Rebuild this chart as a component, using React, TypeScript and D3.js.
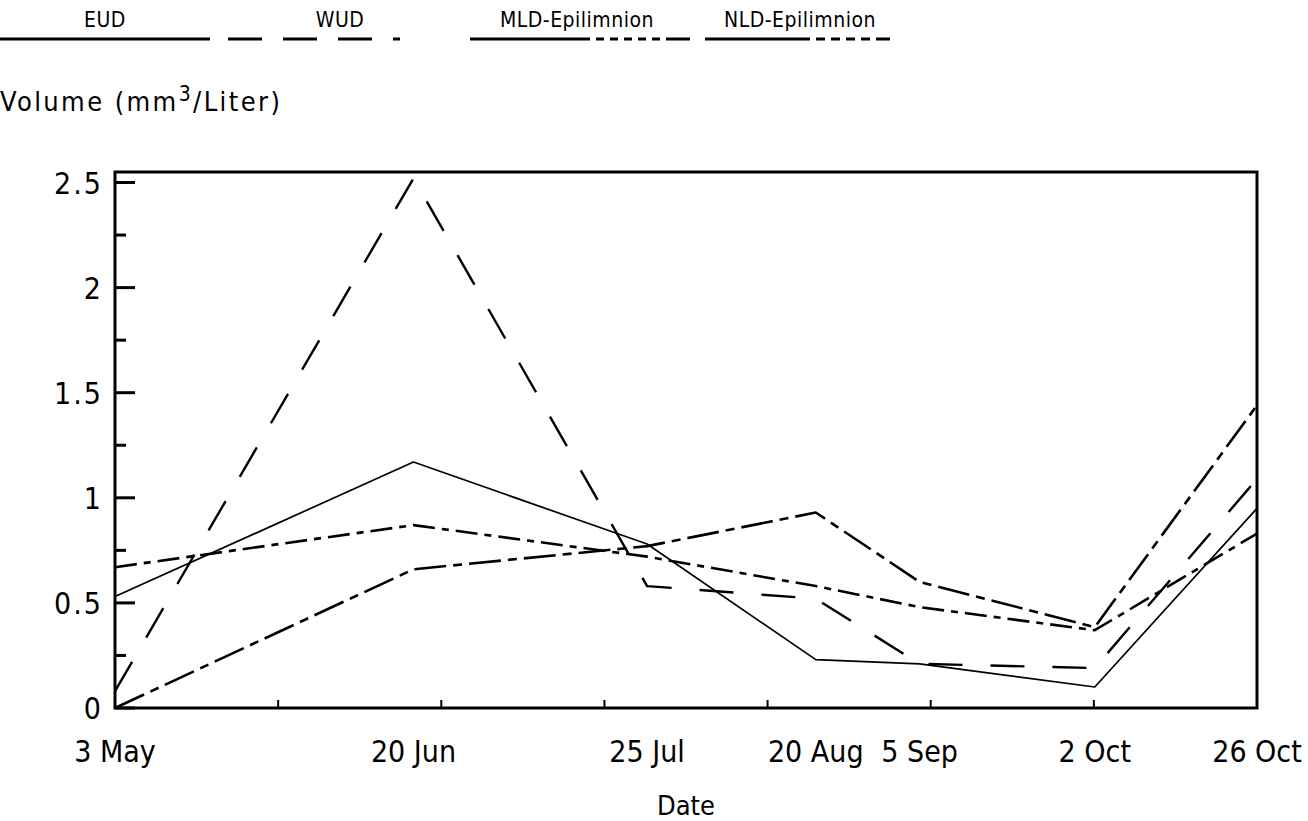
import * as d3 from "d3";

const sampleDates = ["1990-05-03", "1990-06-18", "1990-07-24", "1990-08-19", "1990-09-04", "1990-10-01", "1990-10-26"];
const dateLabels = ["3 May", "20 Jun", "25 Jul", "20 Aug", "5 Sep", "2 Oct", "26 Oct"];

const eud = [0.53, 1.17, 0.78, 0.23, 0.21, 0.1, 0.95];
const wud = [0.08, 2.52, 0.58, 0.52, 0.21, 0.19, 1.09];
const mld = [0.67, 0.87, 0.72, 0.58, 0.48, 0.37, 0.83];
const nld = [0.0, 0.66, 0.77, 0.93, 0.6, 0.385, 1.44];

const seriesNames = ["EUD", "WUD", "MLD-Epilimnion", "NLD-Epilimnion"];
const yTicks = [0, 0.5, 1, 1.5, 2, 2.5];

const W = 1308;
const H = 821;
const FONT = "'DejaVu Sans Condensed', 'DejaVu Sans', sans-serif";

const styles = [
  { dash: "none", width: 1.7 },
  { dash: "34 28", width: 2.4 },
  { dash: "22 7 7 7", width: 2.6 },
  { dash: "32 7 9 7", width: 2.6 },
];

export default function App() {
  const dates = sampleDates.map((s) => new Date(s + "T00:00:00Z"));
  const x = d3.scaleUtc().domain([dates[0], dates[dates.length - 1]]).range([115, 1257]);
  const y = d3.scaleLinear().domain([0, 2.55]).range([708, 172]);

  const series = [eud, wud, mld, nld];
  const line = d3
    .line<number>()
    .x((_, i) => x(dates[i]))
    .y((d) => y(d));

  const [d0, d1] = x.domain();
  const xTicks = d3.range(8).map((i) => new Date(+d0 + (i * (+d1 - +d0)) / 7));
  const minorY = d3.range(0.25, 2.5, 0.5);

  // legend layout
  const legend = [
    { cx: 105, x0: 0, x1: 210, dash: "none" },
    { cx: 340, x0: 228, x1: 400, dash: "34 21" },
    { cx: 577, x0: 470, x1: 690, dash: "120 6 8 6 8 6 8 6 8 6 8 6" },
    { cx: 800, x0: 705, x1: 890, dash: "105 6 9 6 9 6 9 6 9 6" },
  ];

  return (
    <svg width={W} height={H} style={{ position: "absolute", left: 0, top: 0, background: "#fff" }} fontFamily={FONT}>
      {/* legend */}
      {seriesNames.map((name, i) => (
        <g key={name}>
          <text x={legend[i].cx} y={27} textAnchor="middle" fontSize={21} letterSpacing={0.5}>
            {name}
          </text>
          <line
            x1={legend[i].x0}
            x2={legend[i].x1}
            y1={39}
            y2={39}
            stroke="#000"
            strokeWidth={2.8}
            strokeDasharray={legend[i].dash}
          />
        </g>
      ))}

      {/* y title */}
      <text x={0} y={111} fontSize={27} letterSpacing={2.4}>
        Volume (mm<tspan dy={-10} fontSize={21}>3</tspan>
        <tspan dy={10}>/Liter)</tspan>
      </text>

      {/* frame */}
      <rect
        x={x.range()[0]}
        y={y.range()[1]}
        width={x.range()[1] - x.range()[0]}
        height={y.range()[0] - y.range()[1]}
        fill="none"
        stroke="#000"
        strokeWidth={3}
      />

      {/* y ticks */}
      {yTicks.map((t) => (
        <g key={t}>
          <line x1={115} x2={135} y1={y(t)} y2={y(t)} stroke="#000" strokeWidth={3} />
          <text x={103} y={y(t) + 11} textAnchor="end" fontSize={30} letterSpacing={2}>
            {t}
          </text>
        </g>
      ))}
      {minorY.map((t) => (
        <line key={t} x1={115} x2={126} y1={y(t)} y2={y(t)} stroke="#000" strokeWidth={3} />
      ))}

      {/* x ticks */}
      {xTicks.map((t, i) => (
        <line key={i} x1={x(t)} x2={x(t)} y1={708} y2={700} stroke="#000" strokeWidth={2} />
      ))}
      {dateLabels.map((lab, i) => (
        <text key={lab} x={x(dates[i])} y={762} textAnchor="middle" fontSize={30}>
          {lab}
        </text>
      ))}
      <text x={686} y={815} textAnchor="middle" fontSize={27}>
        Date
      </text>

      {/* series */}
      {series.map((s, i) => (
        <path
          key={seriesNames[i]}
          d={line(s) || ""}
          fill="none"
          stroke="#000"
          strokeWidth={styles[i].width}
          strokeDasharray={styles[i].dash}
          strokeLinejoin="round"
        />
      ))}
    </svg>
  );
}
